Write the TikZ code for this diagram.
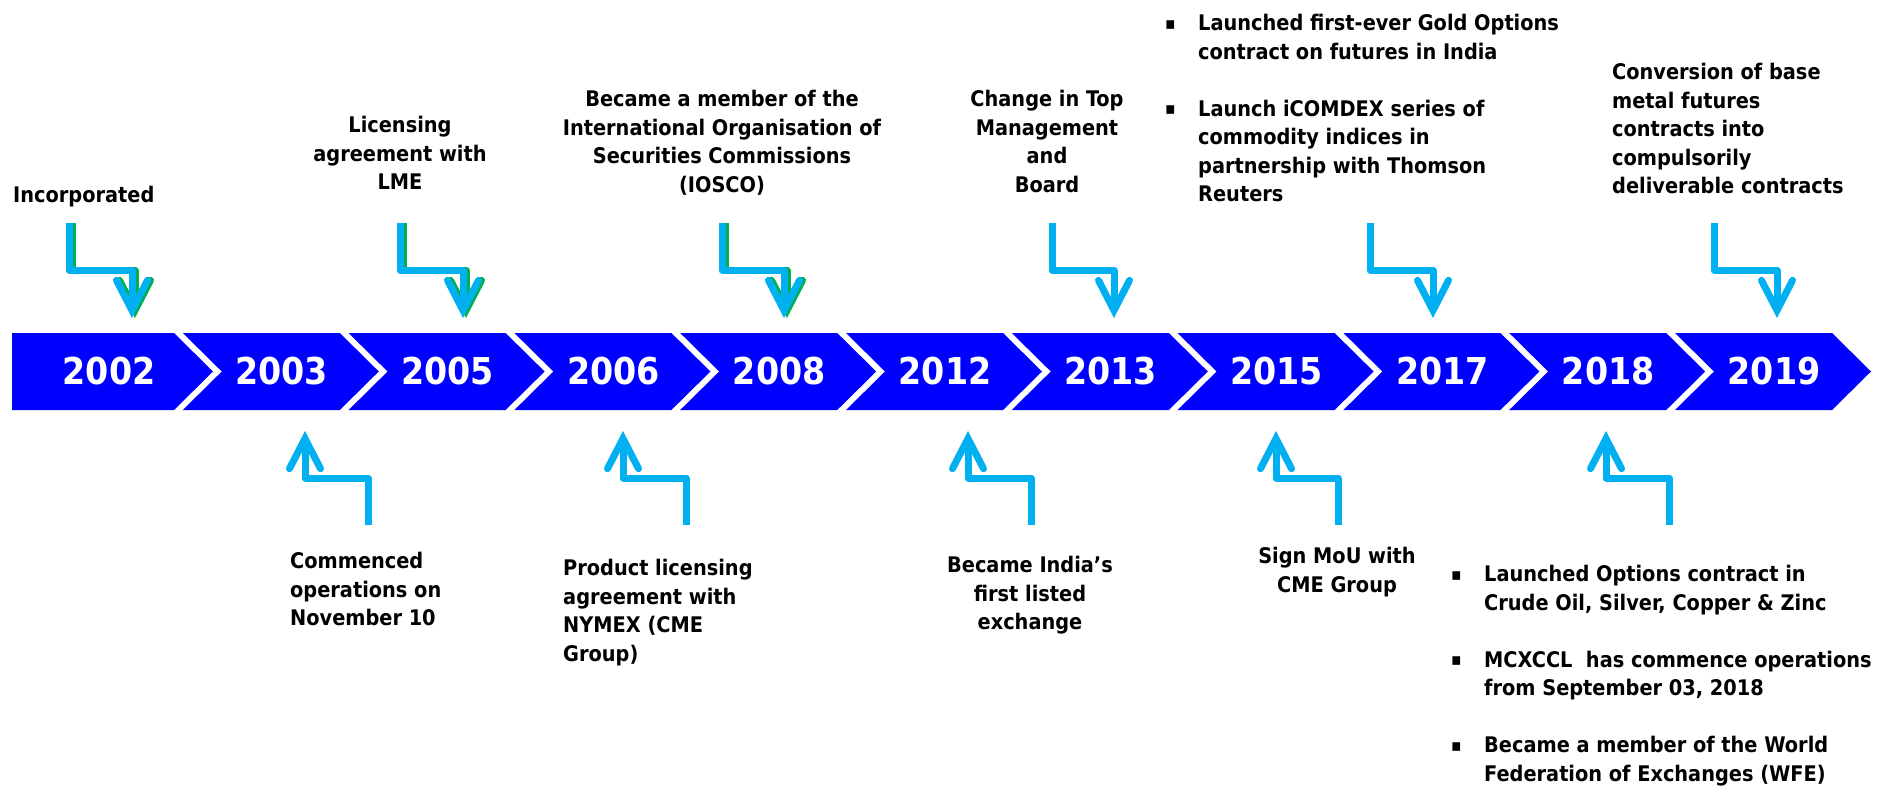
\documentclass[tikz,border=0pt]{standalone}
\usepackage{fontspec}
\setmainfont{DejaVu Sans Condensed}
\usetikzlibrary{arrows.meta, calc}

\definecolor{mcxblue}{HTML}{0000FF}
\definecolor{arrowcyan}{HTML}{00B0F0}
\definecolor{shadowgreen}{HTML}{00B050}

\tikzset{
	year/.style = {text = white, inner sep = 0pt, font = \fontsize{37}{37}\selectfont\bfseries},
	note/.style = {inner sep = 0pt, font = \fontsize{21.5}{28.5}\selectfont\bfseries},
	elbow/.style = {draw = arrowcyan, line width = 7pt, line join = round,
		-{Straight Barb[length = 30pt, width = 31pt, line cap = round, line join = miter]},
		to path = {|- ($(\tikztostart)!0.5!(\tikztotarget)$) -| (\tikztotarget) \tikztonodes}},
	shadow/.style = {elbow, draw = shadowgreen, transform canvas = {xshift = 3pt}},
}
\newcommand{\sqbullet}{\makebox[33pt][l]{\raisebox{1.5pt}{\scalebox{0.8}{▪}}}}
\newcommand{\bulletgap}{\hspace*{33pt}}

\begin{document}
\begin{tikzpicture}[x = 1pt, y = -1pt]
	\fill [white] (0, 0) rectangle (1883, 793);
	\useasboundingbox (0, 0) rectangle (1883, 793);

	% year band
	\foreach \yr [count = \i from 0] in {2002, 2003, 2005, 2006, 2008, 2012, 2013, 2015, 2017, 2018, 2019} {
		\pgfmathsetmacro{\segR}{174 + 165.8*\i}
		\pgfmathsetmacro{\segL}{\i == 0 ? 12 : \segR - 157}
		\pgfmathsetmacro{\segN}{\i == 0 ? 12 : \segR - 118}
		\pgfmathsetmacro{\segX}{\i == 0 ? \segR - 65 : \segR - 58}
		\fill [mcxblue] (\segL, 333) -- (\segR, 333) -- (\segR + 39, 371.5) -- (\segR, 410) -- (\segL, 410) -- (\segN, 371.5) -- cycle;
		\node [year] (y\yr) at (\segX, 371.5) {\yr};
	}

	% events above the band
	\node [note, anchor = north west] (inc) at (13, 186) {Incorporated};
	\node [note, align = center, anchor = north] (lme) at (400, 116) {Licensing\\agreement with\\LME};
	\node [note, align = center, anchor = north] (iosco) at (722, 90) {Became a member of the\\International Organisation of\\Securities Commissions\\(IOSCO)};
	\node [note, align = center, anchor = north] (board) at (1047, 90) {Change in Top\\Management\\and\\Board};
	\node [note, align = left, anchor = north west] (icomdex) at (1165, 14) {\sqbullet Launched first-ever Gold Options\\\bulletgap contract on futures in India\\[28.5pt]\sqbullet Launch iCOMDEX series of\\\bulletgap commodity indices in\\\bulletgap partnership with Thomson\\\bulletgap Reuters};
	\node [note, align = left, anchor = north west] (conv) at (1612, 63) {Conversion of base\\metal futures\\contracts into\\compulsorily\\deliverable contracts};

	% events below the band
	\node [note, align = left, anchor = north west] (comm) at (290, 552) {Commenced\\operations on\\November 10};
	\node [note, align = left, anchor = north west] (nymex) at (563, 559) {Product licensing\\agreement with\\NYMEX (CME\\Group)};
	\node [note, align = center, anchor = north] (listed) at (1030, 556) {Became India’s\\first listed\\exchange};
	\node [note, align = center, anchor = north] (mou) at (1337, 547) {Sign MoU with\\CME Group};
	\node [note, align = left, anchor = north west] (wfe) at (1451, 565) {\sqbullet Launched Options contract in\\\bulletgap Crude Oil, Silver, Copper \& Zinc\\[28.5pt]\sqbullet MCXCCL\ \ has commence operations\\\bulletgap from September 03, 2018\\[28.5pt]\sqbullet Became a member of the World\\\bulletgap Federation of Exchanges (WFE)};

	% arrow ends
	\coordinate (inc-s) at (69, 223);     \coordinate (inc-t) at (132, 318);
	\coordinate (lme-s) at (400, 223);    \coordinate (lme-t) at (463, 318);
	\coordinate (iosco-s) at (722, 223);  \coordinate (iosco-t) at (784, 318);
	\coordinate (board-s) at (1052, 223); \coordinate (board-t) at (1114, 318);
	\coordinate (icomdex-s) at (1370, 223); \coordinate (icomdex-t) at (1433, 318);
	\coordinate (conv-s) at (1714, 223);  \coordinate (conv-t) at (1777, 318);
	\coordinate (comm-s) at (368, 525);   \coordinate (comm-t) at (305, 431);
	\coordinate (nymex-s) at (686, 525);  \coordinate (nymex-t) at (623, 431);
	\coordinate (listed-s) at (1031, 525); \coordinate (listed-t) at (968, 431);
	\coordinate (mou-s) at (1338, 525);   \coordinate (mou-t) at (1276, 431);
	\coordinate (wfe-s) at (1669, 525);   \coordinate (wfe-t) at (1606, 431);

	\draw [shadow] (inc-s) to (inc-t);
	\draw [shadow] (lme-s) to (lme-t);
	\draw [shadow] (iosco-s) to (iosco-t);
	\draw [elbow] (inc-s) to (inc-t);
	\draw [elbow] (lme-s) to (lme-t);
	\draw [elbow] (iosco-s) to (iosco-t);
	\draw [elbow] (board-s) to (board-t);
	\draw [elbow] (icomdex-s) to (icomdex-t);
	\draw [elbow] (conv-s) to (conv-t);
	\draw [elbow] (comm-s) to (comm-t);
	\draw [elbow] (nymex-s) to (nymex-t);
	\draw [elbow] (listed-s) to (listed-t);
	\draw [elbow] (mou-s) to (mou-t);
	\draw [elbow] (wfe-s) to (wfe-t);
\end{tikzpicture}
\end{document}
